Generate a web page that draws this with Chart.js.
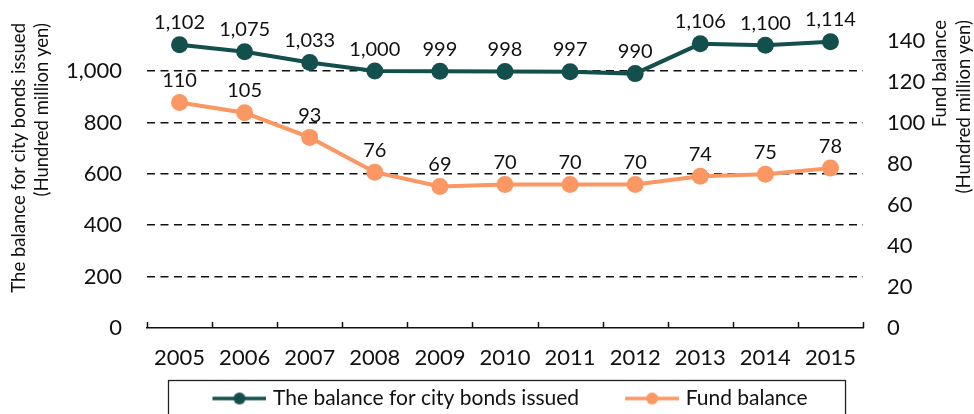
<!DOCTYPE html>
<html>
<head>
<meta charset="utf-8">
<script src="https://cdn.jsdelivr.net/npm/chart.js@4.4.0/dist/chart.umd.min.js"></script>
<style>
  html, body { margin: 0; padding: 0; background: #fff; }
  #wrap { width: 974px; height: 414px; }
</style>
</head>
<body>
<div id="wrap"><canvas id="chart" width="974" height="414"></canvas></div>
<script>
// Data
const years = ['2005', '2006', '2007', '2008', '2009', '2010', '2011', '2012', '2013', '2014', '2015'];
const cityBonds = [1102, 1075, 1033, 1000, 999, 998, 997, 990, 1106, 1100, 1114];
const fundBalance = [110, 105, 93, 76, 69, 70, 70, 70, 74, 75, 78];
const leftTicks = [0, 200, 400, 600, 800, 1000];
const rightTicks = [0, 20, 40, 60, 80, 100, 120, 140];
const rightTitle = ['Fund balance', '(Hundred million yen)'];

const TEAL = '#134f4c';
const ORANGE = '#fa9763';
const FONT = 'Lato, "Open Sans", sans-serif';
const ICON_BOX = 86; // legend box width, icon sits at its right end

// line + dot icon for the legend, padded on the left so items space out
function legendIcon(colour) {
  const c = document.createElement('canvas');
  c.width = ICON_BOX + 8;
  c.height = 14;
  const g = c.getContext('2d');
  const x0 = c.width - 54;
  g.strokeStyle = colour;
  g.lineWidth = 3.5;
  g.beginPath();
  g.moveTo(x0, 7);
  g.lineTo(c.width, 7);
  g.stroke();
  g.fillStyle = colour;
  g.beginPath();
  g.arc(x0 + 27, 7, 6, 0, Math.PI * 2);
  g.fill();
  return c;
}

// value labels above each point
const valueLabels = {
  id: 'valueLabels',
  afterDatasetsDraw(chart) {
    const ctx = chart.ctx;
    ctx.save();
    ctx.font = '20px ' + FONT;
    ctx.fillStyle = '#111';
    ctx.textAlign = 'center';
    ctx.textBaseline = 'middle';
    chart.data.datasets.forEach((ds, i) => {
      const meta = chart.getDatasetMeta(i);
      meta.data.forEach((pt, j) => {
        ctx.fillText(ds.data[j].toLocaleString('en-US'), pt.x, pt.y - 22);
      });
    });
    ctx.restore();
  }
};

// inside tick marks between categories, right axis title, legend frame
const axisExtras = {
  id: 'axisExtras',
  afterDraw(chart) {
    const ctx = chart.ctx;
    const x = chart.scales.x;
    const y1 = chart.scales.y1;
    const area = chart.chartArea;
    ctx.save();
    ctx.strokeStyle = '#111';
    ctx.lineWidth = 1.5;
    const half = (x.getPixelForValue(1) - x.getPixelForValue(0)) / 2;
    for (let i = 0; i <= years.length; i++) {
      const px = Math.round(x.getPixelForValue(i) - half) + 0.5;
      ctx.beginPath();
      ctx.moveTo(px, area.bottom - 6);
      ctx.lineTo(px, area.bottom);
      ctx.stroke();
    }

    // right title reads bottom-to-top, lines end at the top of the axis
    ctx.fillStyle = '#111';
    ctx.font = '18.5px ' + FONT;
    ctx.textAlign = 'right';
    ctx.textBaseline = 'middle';
    rightTitle.forEach((line, i) => {
      ctx.save();
      ctx.translate(y1.left + 77 + i * 24, area.top - 3);
      ctx.rotate(-Math.PI / 2);
      ctx.fillText(line, 0, 0);
      ctx.restore();
    });

    // legend frame
    const lg = chart.legend;
    if (lg && lg.legendHitBoxes.length) {
      const first = lg.legendHitBoxes[0];
      const last = lg.legendHitBoxes[lg.legendHitBoxes.length - 1];
      const left = first.left + (ICON_BOX - 50) - 44;
      const right = last.left + last.width + 38;
      ctx.lineWidth = 1.3;
      ctx.strokeStyle = '#222';
      ctx.strokeRect(Math.round(left) + 0.5, Math.round(lg.top + 2) + 0.5, right - left, 60);
    }
    ctx.restore();
  }
};

new Chart(document.getElementById('chart'), {
  type: 'line',
  data: {
    labels: years,
    datasets: [
      {
        label: 'The balance for city bonds issued',
        data: cityBonds,
        yAxisID: 'y',
        borderColor: TEAL,
        backgroundColor: TEAL,
        borderWidth: 4,
        pointRadius: 8.5,
        pointHoverRadius: 8.5,
        pointBorderWidth: 0,
        clip: false,
      },
      {
        label: 'Fund balance',
        data: fundBalance,
        yAxisID: 'y1',
        borderColor: ORANGE,
        backgroundColor: ORANGE,
        borderWidth: 4,
        pointRadius: 8.5,
        pointHoverRadius: 8.5,
        pointBorderWidth: 0,
        clip: false,
      },
    ],
  },
  options: {
    responsive: false,
    animation: false,
    layout: { padding: { top: 23, left: 0, right: -10, bottom: -5 } },
    scales: {
      x: {
        offset: true,
        afterFit(scale) {
          scale.height = 50;
        },
        grid: { display: false, drawTicks: false },
        border: { display: true, color: '#111', width: 1.5 },
        ticks: { color: '#111', font: { family: FONT, size: 22 }, padding: 17 },
      },
      y: {
        position: 'left',
        min: 0,
        max: 1187,
        afterBuildTicks(scale) {
          scale.ticks = leftTicks.map((v) => ({ value: v }));
        },
        afterFit(scale) {
          scale.width = 147;
          scale.paddingTop = 0;
          scale.paddingBottom = 0;
        },
        grid: {
          drawTicks: false,
          color: (c) => (c.tick && c.tick.value === 0 ? 'rgba(0,0,0,0)' : '#111'),
          lineWidth: 1.5,
        },
        border: { display: false, dash: [8, 5.5] },
        ticks: {
          color: '#111',
          font: { family: FONT, size: 22 },
          padding: 25,
          callback: (v) => v.toLocaleString('en-US'),
        },
        title: {
          display: true,
          align: 'end',
          text: ['The balance for city bonds issued', '(Hundred million yen)'],
          color: '#111',
          font: { family: FONT, size: 18.5, lineHeight: 1.27 },
          padding: { top: 7, bottom: 0 },
        },
      },
      y1: {
        position: 'right',
        min: 0,
        max: 148.8,
        afterBuildTicks(scale) {
          scale.ticks = rightTicks.map((v) => ({ value: v }));
        },
        afterFit(scale) {
          scale.width = 121;
          scale.paddingTop = 0;
          scale.paddingBottom = 0;
        },
        grid: { display: false, drawTicks: false },
        border: { display: false },
        ticks: {
          color: '#111',
          font: { family: FONT, size: 22 },
          padding: 24,
        },
      },
    },
    plugins: {
      legend: {
        position: 'bottom',
        labels: {
          color: '#111',
          font: { family: FONT, size: 21 },
          usePointStyle: true,
          pointStyleWidth: ICON_BOX,
          boxHeight: 14,
          padding: 10,
          generateLabels(chart) {
            return chart.data.datasets.map((ds, i) => ({
              text: ds.label,
              pointStyle: legendIcon(ds.borderColor),
              fillStyle: ds.borderColor,
              strokeStyle: ds.borderColor,
              lineWidth: 0,
              hidden: false,
              datasetIndex: i,
              fontColor: '#111',
            }));
          },
        },
      },
      tooltip: { enabled: false },
    },
  },
  plugins: [valueLabels, axisExtras],
});
</script>
</body>
</html>
